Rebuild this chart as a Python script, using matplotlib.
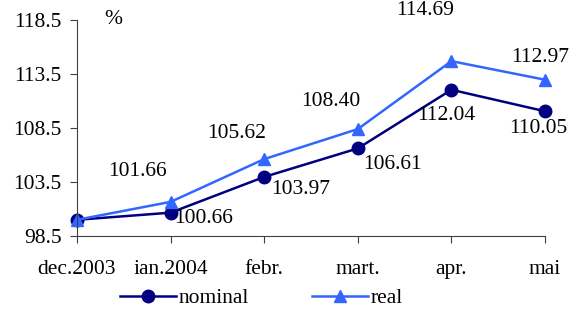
import matplotlib.pyplot as plt

months = ["dec.2003", "ian.2004", "febr.", "mart.", "apr.", "mai"]
nominal = [100.0, 100.66, 103.97, 106.61, 112.04, 110.05]
real = [100.0, 101.66, 105.62, 108.40, 114.69, 112.97]
y_ticks = [98.5, 103.5, 108.5, 113.5, 118.5]

# label offsets in pixels (dx, dy), None = no label
real_off = [None, (-33, 30), (-28, 26), (-27, 28), (-26, 51), (-5, 22)]
nom_off = [None, (33, -6), (36, -13), (35, -16), (-5, -26), (-7, -17)]

plt.rcParams['font.family'] = ['Liberation Serif', 'DejaVu Serif']
fs = 15.5

fig = plt.figure(figsize=(5.69, 3.10), dpi=100)
ax = fig.add_axes([77 / 569, 1 - 236 / 310, (545 - 77) / 569, (236 - 20) / 310])

x = list(range(len(months)))
ax.plot(x, nominal, color="#000080", lw=1.8, marker="o", ms=9, label="nominal")
ax.plot(x, real, color="#3366FF", lw=1.8, marker="^", ms=9, label="real")

for i in x:
    if real_off[i]:
        ax.annotate(f"{real[i]:.2f}", (i, real[i]), xytext=real_off[i],
                    textcoords="offset pixels", ha="center", va="center", fontsize=fs)
    if nom_off[i]:
        ax.annotate(f"{nominal[i]:.2f}", (i, nominal[i]), xytext=nom_off[i],
                    textcoords="offset pixels", ha="center", va="center", fontsize=fs)

ax.set_xlim(0, len(months) - 1)
ax.set_ylim(98.5, 118.5)
ax.set_yticks(y_ticks)
ax.set_yticklabels([f"{v:.1f}" for v in y_ticks])
ax.set_xticks(x)
ax.set_xticklabels(months)
ax.tick_params(labelsize=fs, length=5, width=0.8, color="#404040")
ax.tick_params(axis="y", pad=6)
ax.tick_params(axis="x", pad=12)
for s in ["top", "right"]:
    ax.spines[s].set_visible(False)
for s in ["left", "bottom"]:
    ax.spines[s].set_color("#404040")
    ax.spines[s].set_linewidth(0.8)
for ln in ax.lines:
    ln.set_clip_on(False)

fig.text(113 / 569, 1 - 20 / 310, "%", fontsize=fs, ha="center", va="center")

fig.legend(loc="center", bbox_to_anchor=(0.5 - 23 / 569, 1 - 298 / 310), ncol=2, frameon=False,
           fontsize=fs, handlelength=2.6, columnspacing=2.9, handletextpad=0.15,
           borderpad=0)

fig.savefig("out.png", dpi=100)
